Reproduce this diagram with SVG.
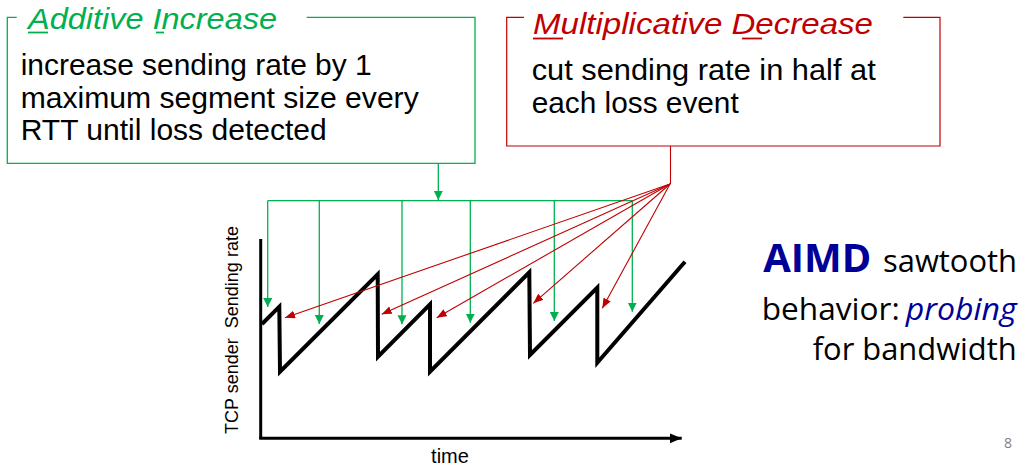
<svg xmlns="http://www.w3.org/2000/svg" width="1025" height="472" viewBox="0 0 1025 472">
<style>
.body{font-family:"Liberation Sans",Arial,sans-serif;font-size:29px;fill:#000}
.gt{font-family:"Liberation Sans",Arial,sans-serif;font-size:30px;font-style:italic;fill:#00B050}
.rt{font-family:"Liberation Sans",Arial,sans-serif;font-size:30px;font-style:italic;fill:#C00000}
.gline{stroke:#00B050;stroke-width:1.3;fill:none}
.rline{stroke:#C00000;stroke-width:1.1;fill:none}
.saw{stroke:#000;stroke-width:4;fill:none;stroke-linejoin:miter}
.axis{stroke:#000;stroke-width:3;fill:none}
.lbl{font-family:"Liberation Sans",Arial,sans-serif;fill:#000}
.note{font-family:"Open Sans","Liberation Sans",sans-serif;font-size:31px;fill:#000}
.blue{fill:#000099}
</style>
<defs>
<marker id="ga" markerUnits="userSpaceOnUse" markerWidth="10" markerHeight="10" refX="9" refY="4.5" orient="auto">
<path d="M0,0 L9,4.5 L0,9 Z" fill="#00B050"/>
</marker>
<marker id="ra" markerUnits="userSpaceOnUse" markerWidth="11" markerHeight="10" refX="10" refY="4" orient="auto">
<path d="M0,0 L10,4 L0,8 Z" fill="#C00000"/>
</marker>
<marker id="xa" markerUnits="userSpaceOnUse" markerWidth="14" markerHeight="12" refX="12" refY="5" orient="auto">
<path d="M0,0 L12,5 L0,10 Z" fill="#000"/>
</marker>
</defs>

<g id="additive-increase">
<path d="M16.7,17.3 H7.3 V163.3 H475 V17.3 H306.7" stroke="#00B050" stroke-width="1.3" fill="none"/>
<text class="gt" x="28" y="28.5" textLength="249" lengthAdjust="spacingAndGlyphs">Additive Increase</text>
<line x1="28" y1="32.5" x2="48" y2="32.5" stroke="#00B050" stroke-width="1.8"/>
<line x1="156" y1="32.5" x2="164" y2="32.5" stroke="#00B050" stroke-width="1.8"/>
<text class="body" x="20.7" y="75" textLength="351" lengthAdjust="spacingAndGlyphs">increase sending rate by 1</text>
<text class="body" x="20.7" y="107.5" textLength="398" lengthAdjust="spacingAndGlyphs">maximum segment size every</text>
<text class="body" x="20.7" y="140" textLength="306" lengthAdjust="spacingAndGlyphs">RTT until loss detected</text>
</g>

<g id="multiplicative-decrease">
<path d="M524,17.3 H506.7 V146 H940 V17.3 H903.3" stroke="#C00000" stroke-width="1.2" fill="none"/>
<text class="rt" x="533" y="34" textLength="340" lengthAdjust="spacingAndGlyphs">Multiplicative Decrease</text>
<line x1="533" y1="38.5" x2="563" y2="38.5" stroke="#C00000" stroke-width="1.8"/>
<line x1="742" y1="38.5" x2="762" y2="38.5" stroke="#C00000" stroke-width="1.8"/>
<text class="body" x="531.7" y="80" textLength="344" lengthAdjust="spacingAndGlyphs">cut sending rate in half at</text>
<text class="body" x="531.7" y="112.7" textLength="207" lengthAdjust="spacingAndGlyphs">each loss event</text>
</g>

<g id="plot">
<line class="axis" x1="260.7" y1="239" x2="260.7" y2="438.3"/>
<line class="axis" x1="259.2" y1="438.3" x2="681.7" y2="438.3" marker-end="url(#xa)"/>
<polyline class="saw" points="262,324 279.3,306.7 280,371.7 377.7,274.3 378,356.7 430,304.3 430,371.7 529.3,272.3 530,355 597.3,287.7 597.3,362.7 685,261.7"/>
<text class="lbl" font-size="18" transform="translate(237.5,330) rotate(-90)" text-anchor="middle" xml:space="preserve">TCP sender  Sending rate</text>
<text class="lbl" font-size="20" x="450" y="463" text-anchor="middle">time</text>
</g>

<g id="connectors">
<line class="gline" x1="438.3" y1="163.3" x2="438.3" y2="200" marker-end="url(#ga)"/>
<line class="gline" x1="267.7" y1="200.7" x2="632.3" y2="200.7"/>
<line class="gline" x1="267.7" y1="200.7" x2="267.7" y2="307" marker-end="url(#ga)"/>
<line class="gline" x1="319.3" y1="200.7" x2="319.3" y2="324" marker-end="url(#ga)"/>
<line class="gline" x1="402" y1="200.7" x2="402" y2="324.3" marker-end="url(#ga)"/>
<line class="gline" x1="470.3" y1="200.7" x2="470.3" y2="322.7" marker-end="url(#ga)"/>
<line class="gline" x1="554.3" y1="200.7" x2="554.3" y2="321" marker-end="url(#ga)"/>
<line class="gline" x1="632.3" y1="200.7" x2="632.3" y2="311.7" marker-end="url(#ga)"/>
<line class="rline" x1="670.5" y1="146" x2="670.5" y2="184"/>
<line class="rline" x1="670" y1="184" x2="285" y2="317.7" marker-end="url(#ra)"/>
<line class="rline" x1="670" y1="184" x2="381.7" y2="314.3" marker-end="url(#ra)"/>
<line class="rline" x1="670" y1="184" x2="436.7" y2="317.7" marker-end="url(#ra)"/>
<line class="rline" x1="670" y1="184" x2="533.3" y2="303.3" marker-end="url(#ra)"/>
<line class="rline" x1="670" y1="184" x2="602.3" y2="308.3" marker-end="url(#ra)"/>
</g>

<g id="aimd-note">
<text class="note blue" x="763.3" y="272" font-weight="bold" style="font-size:39px" textLength="108" lengthAdjust="spacingAndGlyphs">AIMD</text>
<text class="note" x="883" y="272" textLength="134" lengthAdjust="spacingAndGlyphs">sawtooth</text>
<text class="note" x="761.7" y="320" textLength="138" lengthAdjust="spacingAndGlyphs">behavior:</text>
<text class="note blue" x="905.7" y="320" font-style="italic" textLength="111" lengthAdjust="spacingAndGlyphs">probing</text>
<text class="note" x="812.7" y="360" textLength="204" lengthAdjust="spacingAndGlyphs">for bandwidth</text>
</g>

<text x="1004" y="448" font-family="'Open Sans','Liberation Sans',sans-serif" font-size="14" fill="#7f7f7f">8</text>
</svg>
